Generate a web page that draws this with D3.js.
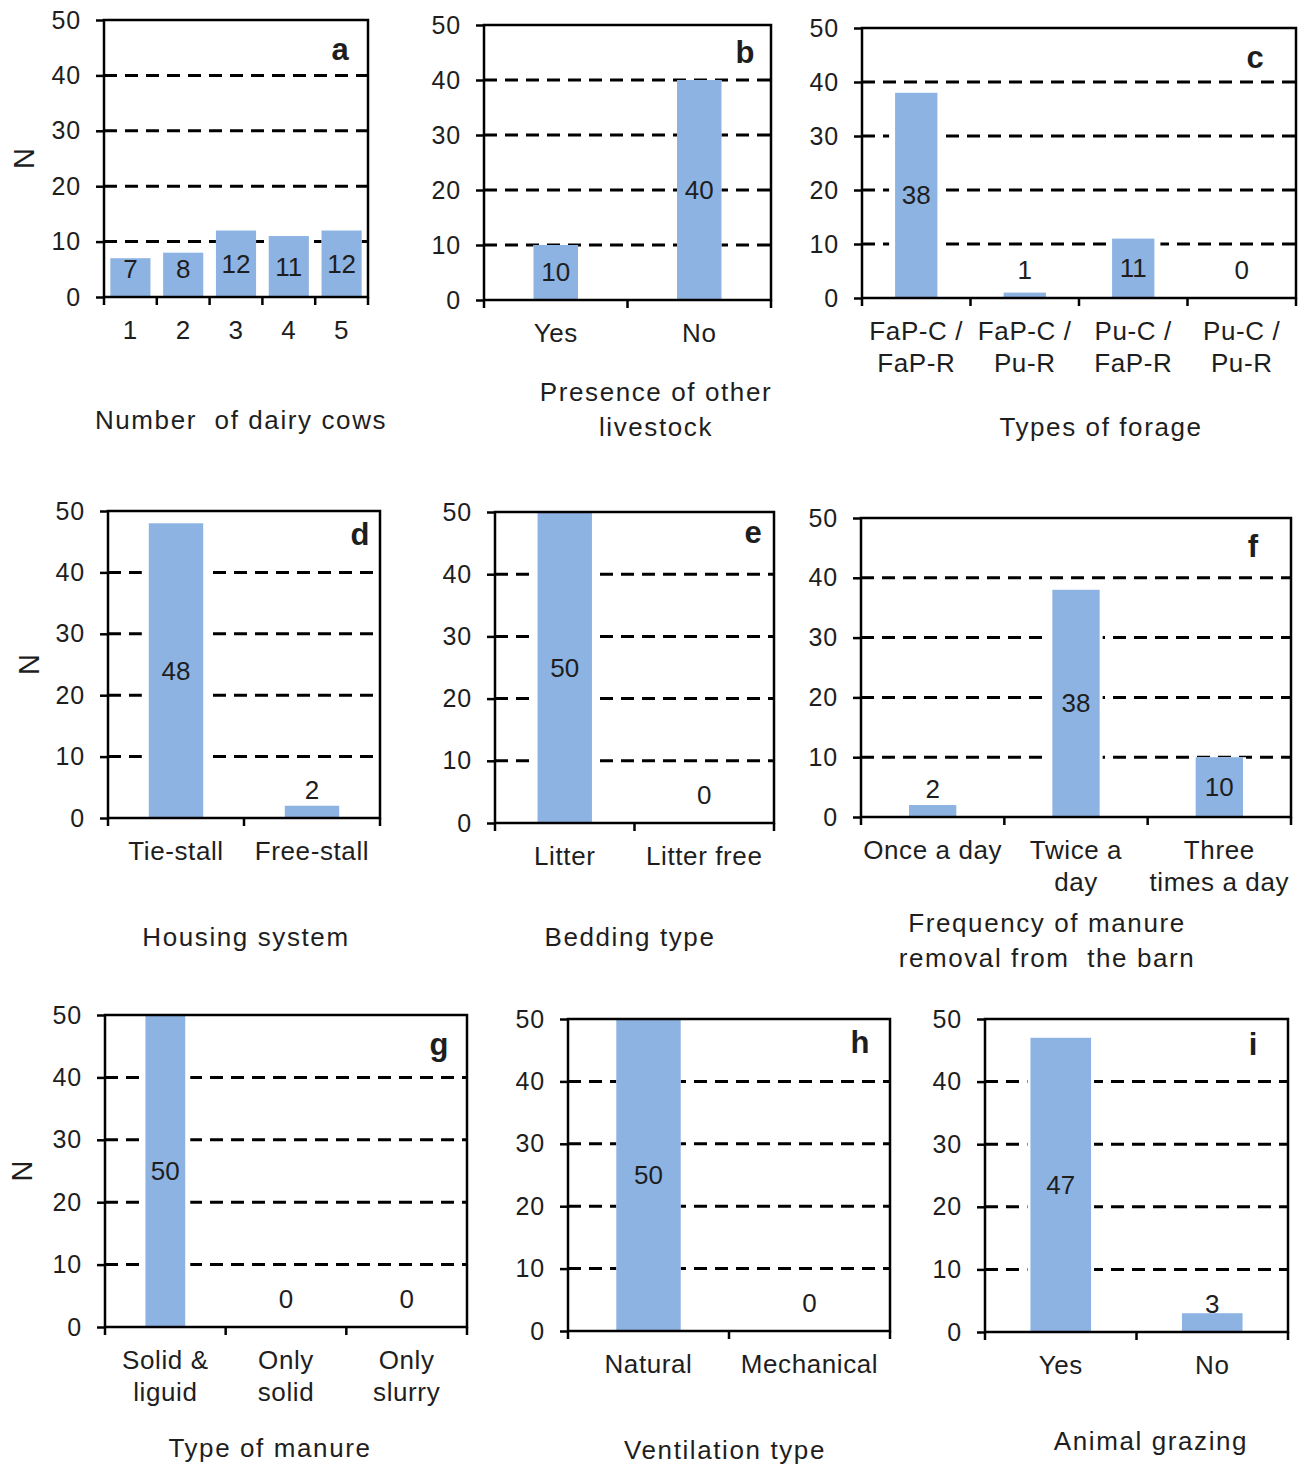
<!DOCTYPE html>
<html>
<head>
<meta charset="utf-8">
<script src="https://cdn.jsdelivr.net/npm/d3@7"></script>
<style>
  body { margin: 0; background: #fff; }
  svg text { font-family: "Liberation Sans", Arial, sans-serif; fill: #1e1e1e; }
</style>
</head>
<body>
<div class="figure"></div>
<script>
// values (N = number of farms)
const yTicks = [0, 10, 20, 30, 40, 50];
const gridTicks = [10, 20, 30, 40];

const cowsCats = ["1", "2", "3", "4", "5"];
const cowsValues = [7, 8, 12, 11, 12];

const livestockCats = ["Yes", "No"];
const livestockValues = [10, 40];

const forageCats = ["FaP-C /\nFaP-R", "FaP-C /\nPu-R", "Pu-C /\nFaP-R", "Pu-C /\nPu-R"];
const forageValues = [38, 1, 11, 0];

const housingCats = ["Tie-stall", "Free-stall"];
const housingValues = [48, 2];

const beddingCats = ["Litter", "Litter free"];
const beddingValues = [50, 0];

const removalCats = ["Once a day", "Twice a\nday", "Three\ntimes a day"];
const removalValues = [2, 38, 10];

const manureCats = ["Solid &\nliguid", "Only\nsolid", "Only\nslurry"];
const manureValues = [50, 0, 0];

const ventCats = ["Natural", "Mechanical"];
const ventValues = [50, 0];

const grazingCats = ["Yes", "No"];
const grazingValues = [47, 3];

// layout of each small chart (plot box, bar width ratio, letter and title placement)
const panels = [
  { cats: cowsCats, values: cowsValues, box: [104, 368, 20, 297], ratio: 0.76, gap: 0,
    letter: "a", lx: 340, ly: 60, title: ["Number  of dairy cows"], tx: 241, ty: 429, nx: 24 },
  { cats: livestockCats, values: livestockValues, box: [484, 771, 25, 300], ratio: 0.31, gap: 0,
    letter: "b", lx: 745, ly: 63, title: ["Presence of other", "livestock"], tx: 656, ty: 401 },
  { cats: forageCats, values: forageValues, box: [862, 1296, 28, 298], ratio: 0.39, gap: 6,
    letter: "c", lx: 1255, ly: 68, title: ["Types of forage"], tx: 1101, ty: 436 },
  { cats: housingCats, values: housingValues, box: [108, 380, 511, 818], ratio: 0.40, gap: 7,
    letter: "d", lx: 360, ly: 545, title: ["Housing system"], tx: 246, ty: 946, nx: 29 },
  { cats: beddingCats, values: beddingValues, box: [495, 774, 512, 823], ratio: 0.39, gap: 7,
    letter: "e", lx: 753, ly: 543, title: ["Bedding type"], tx: 630, ty: 946 },
  { cats: removalCats, values: removalValues, box: [861, 1291, 518, 817], ratio: 0.33, gap: 3,
    letter: "f", lx: 1253, ly: 557, title: ["Frequency of manure", "removal from  the barn"], tx: 1047, ty: 932 },
  { cats: manureCats, values: manureValues, box: [105, 467, 1015, 1327], ratio: 0.33, gap: 5,
    letter: "g", lx: 439, ly: 1055, title: ["Type of manure"], tx: 270, ty: 1457, nx: 22 },
  { cats: ventCats, values: ventValues, box: [568, 890, 1019, 1331], ratio: 0.40, gap: 0,
    letter: "h", lx: 860, ly: 1053, title: ["Ventilation type"], tx: 725, ty: 1459 },
  { cats: grazingCats, values: grazingValues, box: [985, 1288, 1019, 1332], ratio: 0.40, gap: 3,
    letter: "i", lx: 1253, ly: 1055, title: ["Animal grazing"], tx: 1151, ty: 1450 }
];

const barColor = "#8db3e2";

const svg = d3.select("div.figure").append("svg")
    .attr("width", 1306)
    .attr("height", 1468);

function drawPanel(p) {
  let [left, right, top, bottom] = p.box;
  let g = svg.append("g").attr("class", `panel-${p.letter}`);
  let data = p.cats.map((c, i) => ({ cat: c, value: p.values[i] }));

  let x = d3.scaleBand()
      .domain(p.cats)
      .range([left, right])
      .padding(0);
  let y = d3.scaleLinear()
      .domain([0, 50])
      .range([bottom, top]);

  let bw = x.bandwidth() * p.ratio;
  let off = (x.bandwidth() - bw) / 2;

  // dashed gridlines
  g.selectAll("line.grid")
      .data(gridTicks)
      .enter().append("line")
      .attr("class", "grid")
      .attr("x1", left)
      .attr("x2", right)
      .attr("y1", (d) => y(d))
      .attr("y2", (d) => y(d))
      .attr("stroke", "#000")
      .attr("stroke-width", 3)
      .attr("stroke-dasharray", "13,8");

  // white margin around bars where the grid breaks
  g.selectAll("rect.halo")
      .data(data.filter((d) => d.value > 0))
      .enter().append("rect")
      .attr("class", "halo")
      .attr("x", (d) => x(d.cat) + off - p.gap)
      .attr("width", bw + 2 * p.gap)
      .attr("y", (d) => y(d.value))
      .attr("height", (d) => y(0) - y(d.value))
      .attr("fill", "#fff");

  g.selectAll("rect.bar")
      .data(data)
      .enter().append("rect")
      .attr("class", "bar")
      .attr("x", (d) => x(d.cat) + off)
      .attr("width", bw)
      .attr("y", (d) => y(d.value))
      .attr("height", (d) => y(0) - y(d.value))
      .attr("fill", barColor);

  // plot frame
  g.append("rect")
      .attr("x", left)
      .attr("y", top)
      .attr("width", right - left)
      .attr("height", bottom - top)
      .attr("fill", "none")
      .attr("stroke", "#000")
      .attr("stroke-width", 2.5);

  // y axis
  let yAxis = g.append("g")
      .attr("transform", `translate(${left},0)`)
      .call(d3.axisLeft(y).tickValues(yTicks).tickSize(8).tickPadding(15));
  yAxis.select(".domain").remove();
  yAxis.selectAll(".tick line").attr("stroke", "#000").attr("stroke-width", 2.5);
  yAxis.selectAll(".tick text")
      .attr("font-size", 25)
      .style("letter-spacing", "0.8px")
      .attr("fill", "#1e1e1e");

  // x ticks sit on the category boundaries
  let bounds = p.cats.map((c) => x(c)).concat([right]);
  g.selectAll("line.xtick")
      .data(bounds)
      .enter().append("line")
      .attr("class", "xtick")
      .attr("x1", (d) => d)
      .attr("x2", (d) => d)
      .attr("y1", bottom)
      .attr("y2", bottom + 8)
      .attr("stroke", "#000")
      .attr("stroke-width", 2.5);

  // category labels (may wrap to two lines)
  let labels = g.selectAll("text.cat")
      .data(data)
      .enter().append("text")
      .attr("class", "cat")
      .attr("text-anchor", "middle")
      .attr("font-size", 26)
      .style("letter-spacing", "0.6px");
  labels.each(function(d) {
    let t = d3.select(this);
    d.cat.split("\n").forEach((line, i) => {
      t.append("tspan")
        .attr("x", x(d.cat) + x.bandwidth() / 2)
        .attr("y", bottom + 42 + i * 32)
        .text(line);
    });
  });

  // value labels: middle of the bar, but never lower than a fixed line above the axis
  g.selectAll("text.value")
      .data(data)
      .enter().append("text")
      .attr("class", "value")
      .attr("text-anchor", "middle")
      .attr("font-size", 26)
      .attr("x", (d) => x(d.cat) + x.bandwidth() / 2)
      .attr("y", (d) => Math.min((y(d.value) + y(0)) / 2, y(0) - 28) + 9)
      .text((d) => d.value);

  // panel letter
  g.append("text")
      .attr("x", p.lx)
      .attr("y", p.ly)
      .attr("text-anchor", "middle")
      .attr("font-size", 31)
      .attr("font-weight", "bold")
      .text(p.letter);

  // axis title
  g.selectAll("text.title")
      .data(p.title)
      .enter().append("text")
      .attr("class", "title")
      .attr("x", p.tx)
      .attr("y", (d, i) => p.ty + i * 35)
      .attr("text-anchor", "middle")
      .attr("font-size", 26)
      .style("letter-spacing", "1.6px")
      .style("white-space", "pre")
      .text((d) => d);

  if (p.nx) {
    g.append("text")
        .attr("transform", `translate(${p.nx + 10},${(top + bottom) / 2}) rotate(-90)`)
        .attr("text-anchor", "middle")
        .attr("font-size", 29)
        .text("N");
  }
}

panels.forEach((p) => drawPanel(p));
</script>
</body>
</html>
